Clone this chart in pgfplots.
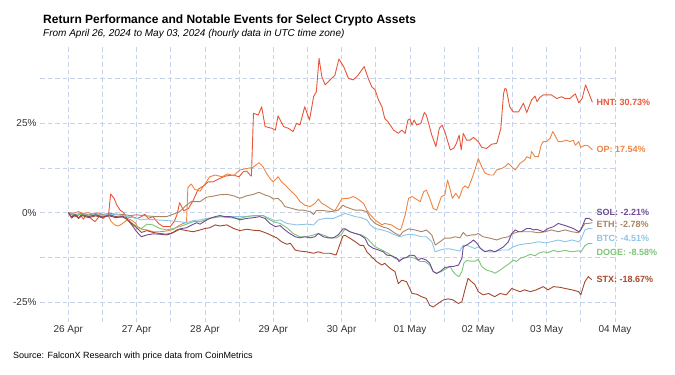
\documentclass[border=0pt]{standalone}
\usepackage{pgfplots}
\pgfplotsset{compat=1.18}
\usepackage{fontspec}
\setmainfont{Liberation Sans}
\definecolor{hnt}{HTML}{E8553A}
\definecolor{op}{HTML}{EE8443}
\definecolor{sol}{HTML}{6F4A96}
\definecolor{eth}{HTML}{A88462}
\definecolor{btc}{HTML}{8DC4E6}
\definecolor{doge}{HTML}{7DC47A}
\definecolor{stx}{HTML}{A5472B}
\definecolor{gridc}{HTML}{C6D3EA}
\definecolor{tickc}{HTML}{333333}
\begin{document}
\begin{tikzpicture}[x=1pt,y=1pt]
\useasboundingbox (0,0) rectangle (675,375);
\node[anchor=base west, inner sep=0, font=\bfseries\fontsize{12}{14}\selectfont] at (43,351.5) {Return Performance and Notable Events for Select Crypto Assets};
\node[anchor=base west, inner sep=0, font=\itshape\fontsize{10}{12}\selectfont] at (43,338.5) {From April 26, 2024 to May 03, 2024 (hourly data in UTC time zone)};
\node[anchor=base west, inner sep=0, font=\fontsize{9}{11}\selectfont] at (13,16.5) {Source: FalconX Research with price data from CoinMetrics};
\begin{axis}[
  at={(40pt,53pt)}, anchor=south west,
  width=577pt, height=277pt, scale only axis,
  xmin=-0.414, xmax=8.03, ymin=-30.45, ymax=46.71,
  axis line style={draw=none},
  major tick length=0pt, minor tick length=0pt,
  xtick={0,1,2,3,4,5,6,7,8},
  xticklabels={26 Apr,27 Apr,28 Apr,29 Apr,30 Apr,01 May,02 May,03 May,04 May},
  ytick={-25,0,25},
  yticklabels={-25\%,0\%,25\%},
  minor xtick={0.5,1.5,2.5,3.5,4.5,5.5,6.5,7.5},
  minor ytick={-12.5,12.5,37.5},
  grid=both,
  major grid style={gridc, line width=0.6pt, dash pattern=on 4.5pt off 3pt},
  minor grid style={gridc, line width=0.6pt, dash pattern=on 4.5pt off 3pt},
  ticklabel style={font=\fontsize{10}{12}\selectfont, text=tickc},
  clip=false,
  every axis plot/.append style={line width=0.9pt, line join=round, no marks},
]
% HNT
\addplot[hnt] coordinates {
(0,0) (0.07,-0.8) (0.12,-1.1) (0.17,-0.4) (0.22,-1.8) (0.27,-0.6) (0.33,-1.6) (0.39,-2.5) (0.45,-1.1) (0.51,-1.6) (0.59,-0.4) (0.62,5.2) (0.67,4.0) (0.71,2.1) (0.76,0.7) (0.81,0) (0.86,-1.6) (0.93,-1.1) (1.01,-1.6) (1.07,-1.1) (1.12,-0.4) (1.17,-1.6) (1.24,-1.1) (1.32,-3.0) (1.39,-3.9) (1.49,-3.9) (1.55,-2.5) (1.59,-0.6) (1.63,2.8) (1.69,0.5) (1.76,1.2) (1.83,3.5) (1.9,6.5) (1.98,7.5) (2.05,8.6) (2.12,8.6) (2.2,9.4) (2.3,10.2) (2.41,10.5) (2.5,10.0) (2.56,11.4) (2.61,11.6) (2.66,10.5) (2.68,10.2)
(2.71,27.7) (2.78,27.2) (2.83,29.5) (2.88,24.0) (2.98,23.5) (3.03,23.0) (3.07,27.0) (3.15,24.0) (3.22,23.5) (3.29,22.6) (3.34,24.9) (3.39,24.4) (3.46,29.5) (3.53,25.8) (3.59,32.3) (3.63,33.7) (3.67,43.0) (3.71,37.9) (3.76,35.6) (3.83,37.0) (3.90,38.2) (3.96,42.8) (4.03,40.7) (4.10,37.4) (4.17,37.0) (4.24,38.3) (4.33,40.7) (4.39,37.4) (4.44,35.1) (4.49,34.2) (4.54,31.4) (4.59,29.5) (4.63,26.3) (4.68,25.3) (4.76,23.0) (4.83,22.1) (4.88,23.0) (4.93,22.1) (4.97,25.8) (5.00,26.1) (5.03,24.4) (5.06,25.8) (5.10,24.4) (5.16,24.9) (5.21,27.9) (5.24,27.2) (5.32,21.6) (5.38,18.4) (5.43,23.5) (5.47,24.4) (5.51,22.6) (5.59,17.5) (5.64,17.9) (5.68,19.3) (5.72,21.6) (5.75,17.5) (5.78,22.1) (5.83,20.2) (5.88,20.2) (5.93,21.0) (6.00,19.8) (6.05,18.2) (6.12,17.9) (6.20,19.1) (6.27,19.3) (6.33,23.5) (6.37,33.2) (6.39,34.6) (6.41,34.4) (6.46,29.5) (6.51,28.1) (6.59,28.1) (6.66,30.5) (6.71,27.9) (6.78,31.4) (6.83,32.5) (6.86,30.9) (6.90,32.1) (6.95,32.8) (7.07,32.8) (7.15,31.8) (7.22,32.3) (7.27,31.8) (7.34,31.8) (7.42,33.1) (7.47,30.6) (7.52,31.8) (7.57,35.6) (7.62,33.2) (7.67,30.73)
};
% OP
\addplot[op] coordinates {
(0,0) (0.07,-0.2) (0.15,0.3) (0.22,-0.2) (0.29,0) (0.37,-0.4) (0.44,0) (0.51,-0.6) (0.59,-1.1) (0.63,-2.5) (0.68,-3.4) (0.73,-3.7) (0.78,-3.2) (0.85,-2.2) (0.91,-1.9) (0.98,-2.8) (1.02,-4.1) (1.07,-4.6) (1.15,-4.8) (1.24,-5.3) (1.34,-5.3) (1.44,-5.1) (1.54,-4.6) (1.61,-3.7) (1.68,-3.0) (1.73,-2.8) (1.75,7.0) (1.80,8.0) (1.85,6.5) (1.93,6.0) (2.00,8.0) (2.07,10.0) (2.15,10.5) (2.25,10.0) (2.33,10.8) (2.42,10.3) (2.51,11.9) (2.61,12.3) (2.70,12.6) (2.79,13.9) (2.85,12.8) (2.90,11.0) (2.95,9.6) (3.00,8.6) (3.07,10.0) (3.12,8.6) (3.20,7.2) (3.27,5.8) (3.34,4.5) (3.39,3.1) (3.46,2.1) (3.54,1.7) (3.61,2.6) (3.66,3.8) (3.71,2.6) (3.76,2.1) (3.83,1.2) (3.90,0.5) (3.95,2.1) (4.00,3.8) (4.05,4.0) (4.10,4.0) (4.17,4.5) (4.24,3.8) (4.32,2.6) (4.37,0.7) (4.42,-0.6) (4.49,-2.0) (4.59,-3.4) (4.63,-3.0) (4.73,-3.4) (4.81,-4.4) (4.86,-4.8) (4.88,-3.9) (4.93,-0.6) (4.98,4.0) (5.03,4.5) (5.07,4.0) (5.15,3.1) (5.20,5.8) (5.24,6.3) (5.29,4.0) (5.34,1.2) (5.39,0.7) (5.46,4.5) (5.51,4.9) (5.55,9.1) (5.59,6.3) (5.62,4.0) (5.67,5.4) (5.72,4.0) (5.77,6.8) (5.81,7.5) (5.85,6.8) (5.90,9.1) (5.95,11.9) (6.00,15.1) (6.05,12.8) (6.10,11.0) (6.17,10.5) (6.22,10.5) (6.27,11.9) (6.34,12.3) (6.39,12.8) (6.44,13.7) (6.49,12.8) (6.54,11.9) (6.61,13.7) (6.68,14.7) (6.71,15.6) (6.76,15.1) (6.78,17.0) (6.83,15.6) (6.88,15.6) (6.92,18.8) (6.95,19.8) (7.00,19.8) (7.05,20.7) (7.09,22.6) (7.12,21.6) (7.17,19.8) (7.22,19.8) (7.29,20.2) (7.34,19.8) (7.39,20.2) (7.42,18.8) (7.47,19.8) (7.50,18.2) (7.56,18.8) (7.61,18.6) (7.67,17.54)
};
% ETH
\addplot[eth] coordinates {
(0,0) (0.1,-0.5) (0.2,-0.2) (0.3,-0.6) (0.4,-0.3) (0.5,-0.5) (0.6,-0.2) (0.7,-0.4) (0.8,-0.5) (0.9,-0.8) (1.0,-0.6) (1.15,-0.9) (1.29,-1.1) (1.44,-1.1) (1.54,-0.4) (1.63,0.3) (1.73,2.1) (1.80,3.1) (1.93,3.1) (2.02,4.3) (2.12,4.6) (2.22,5.0) (2.32,5.1) (2.42,4.7) (2.51,4.0) (2.61,4.7) (2.71,5.1) (2.79,5.7) (2.88,4.9) (2.95,4.5) (3.00,3.8) (3.07,4.0) (3.12,3.1) (3.17,1.7) (3.27,1.2) (3.37,0.7) (3.44,0.7) (3.54,0.3) (3.59,-0.5) (3.63,0.6) (3.73,0.6) (3.85,0.3) (3.95,0.7) (4.02,2.1) (4.05,1.7) (4.12,1.2) (4.20,0.7) (4.29,0.7) (4.37,0.3) (4.42,-1.6) (4.49,-3.0) (4.59,-3.9) (4.68,-4.4) (4.78,-5.7) (4.85,-6.4) (4.90,-5.3) (4.98,-4.5) (5.07,-4.8) (5.17,-5.3) (5.24,-4.8) (5.32,-6.2) (5.37,-9.0) (5.44,-8.1) (5.51,-7.1) (5.59,-7.1) (5.66,-6.7) (5.73,-7.0) (5.78,-5.5) (5.83,-6.5) (5.90,-6.2) (5.95,-6.2) (6.00,-5.8) (6.07,-6.7) (6.17,-7.1) (6.27,-7.6) (6.34,-7.1) (6.44,-6.7) (6.51,-5.8) (6.59,-5.3) (6.66,-5.3) (6.78,-5.3) (6.88,-5.6) (6.98,-5.3) (7.07,-4.8) (7.17,-5.3) (7.27,-4.8) (7.37,-5.3) (7.47,-5.6) (7.50,-4.8) (7.56,-3.0) (7.61,-3.0) (7.67,-2.78)
};
% BTC
\addplot[btc] coordinates {
(0,0) (0.1,-0.6) (0.2,-0.4) (0.3,-0.8) (0.4,-0.5) (0.5,-0.7) (0.6,-0.4) (0.7,-0.6) (0.8,-0.8) (0.9,-1.2) (1.0,-1.6) (1.07,-2.0) (1.15,-1.8) (1.29,-2.0) (1.44,-2.2) (1.63,-2.5) (1.73,-2.8) (1.83,-2.2) (1.93,-2.0) (2.02,-1.6) (2.22,-1.1) (2.41,-1.1) (2.56,-1.1) (2.70,-0.9) (2.85,-0.8) (2.95,-1.6) (3.03,-2.3) (3.10,-2.0) (3.20,-3.0) (3.34,-3.4) (3.49,-3.2) (3.59,-3.4) (3.66,-2.0) (3.76,-1.6) (3.88,-1.6) (3.98,-0.8) (4.05,-0.2) (4.12,-0.6) (4.20,-1.1) (4.29,-1.4) (4.37,-2.0) (4.42,-3.4) (4.49,-4.4) (4.59,-4.8) (4.68,-5.3) (4.78,-6.2) (4.85,-6.7) (4.93,-6.2) (5.00,-6.0) (5.07,-6.2) (5.17,-6.7) (5.24,-6.7) (5.32,-8.1) (5.37,-10.9) (5.44,-10.4) (5.51,-10.1) (5.59,-10.1) (5.66,-10.4) (5.73,-10.7) (5.78,-9.0) (5.85,-9.2) (5.95,-10.0) (6.00,-9.5) (6.07,-10.6) (6.15,-10.9) (6.24,-10.9) (6.34,-10.4) (6.44,-10.4) (6.51,-9.5) (6.59,-9.0) (6.68,-8.7) (6.78,-8.5) (6.88,-8.1) (6.98,-8.4) (7.07,-8.1) (7.17,-7.6) (7.27,-8.1) (7.37,-7.6) (7.47,-8.1) (7.50,-7.6) (7.56,-4.8) (7.61,-4.4) (7.67,-4.51)
};
% DOGE
\addplot[doge] coordinates {
(0,0) (0.1,-0.8) (0.2,-0.4) (0.3,-1.0) (0.4,-0.6) (0.5,-1.0) (0.6,-0.7) (0.7,-1.3) (0.8,-1.2) (0.9,-2.5) (1.0,-3.8) (1.07,-4.4) (1.15,-3.2) (1.24,-3.4) (1.34,-4.4) (1.44,-4.8) (1.54,-4.4) (1.63,-3.9) (1.73,-3.2) (1.83,-2.5) (1.93,-2.5) (2.07,-1.6) (2.22,-1.1) (2.37,-1.4) (2.51,-1.6) (2.61,-1.1) (2.71,-0.8) (2.85,-0.8) (2.93,-1.8) (3.00,-2.5) (3.10,-3.0) (3.20,-4.2) (3.29,-5.8) (3.39,-6.7) (3.49,-6.7) (3.59,-6.2) (3.66,-5.8) (3.76,-6.4) (3.83,-7.0) (3.93,-7.0) (4.00,-6.0) (4.05,-4.5) (4.12,-5.3) (4.20,-5.8) (4.29,-6.2) (4.37,-7.1) (4.42,-8.1) (4.49,-9.5) (4.59,-10.4) (4.68,-11.3) (4.78,-12.7) (4.85,-13.2) (4.93,-12.5) (5.00,-12.3) (5.07,-12.7) (5.15,-13.6) (5.22,-13.6) (5.29,-14.6) (5.34,-16.4) (5.39,-16.9) (5.46,-16.4) (5.54,-15.5) (5.59,-15.0) (5.63,-16.4) (5.68,-17.4) (5.72,-17.8) (5.76,-16.4) (5.79,-14.0) (5.83,-13.3) (5.88,-13.5) (5.95,-13.5) (6.00,-13.0) (6.05,-15.0) (6.12,-16.0) (6.20,-16.4) (6.24,-16.9) (6.32,-16.0) (6.39,-15.0) (6.46,-14.1) (6.51,-13.2) (6.56,-13.6) (6.61,-12.7) (6.68,-12.3) (6.76,-11.6) (6.83,-12.0) (6.88,-11.3) (6.95,-10.9) (7.02,-11.1) (7.10,-10.5) (7.17,-10.9) (7.27,-10.5) (7.37,-10.9) (7.47,-10.6) (7.50,-11.0) (7.56,-9.2) (7.61,-8.6) (7.67,-8.58)
};
% SOL
\addplot[sol] coordinates {
(0,0) (0.05,-1.2) (0.1,-0.5) (0.15,-1.4) (0.2,-0.6) (0.3,-1.1) (0.4,-0.6) (0.5,-1.2) (0.6,-0.9) (0.7,-1.4) (0.8,-1.0) (0.85,-1.6) (0.93,-3.4) (1.00,-5.3) (1.07,-6.7) (1.15,-6.2) (1.24,-5.9) (1.34,-6.0) (1.44,-6.2) (1.51,-5.8) (1.59,-4.8) (1.66,-4.4) (1.73,-4.2) (1.81,-3.4) (1.88,-2.8) (1.93,-3.2) (2.00,-2.3) (2.07,-1.6) (2.15,-1.1) (2.22,-0.8) (2.29,-1.1) (2.37,-1.1) (2.46,-1.6) (2.51,-2.0) (2.61,-1.6) (2.71,-1.4) (2.80,-1.1) (2.88,-1.6) (2.95,-3.0) (3.03,-3.9) (3.10,-3.6) (3.17,-4.8) (3.24,-5.8) (3.32,-6.7) (3.39,-7.0) (3.46,-6.7) (3.54,-7.0) (3.61,-6.7) (3.66,-5.8) (3.73,-6.7) (3.80,-7.0) (3.88,-7.0) (3.95,-6.2) (4.02,-4.5) (4.05,-4.5) (4.12,-5.3) (4.20,-5.8) (4.27,-6.2) (4.34,-7.1) (4.39,-9.0) (4.46,-9.9) (4.54,-10.4) (4.61,-10.9) (4.66,-11.8) (4.73,-12.0) (4.81,-12.7) (4.84,-13.6) (4.90,-12.7) (4.95,-12.5) (5.00,-11.8) (5.07,-12.0) (5.12,-13.2) (5.17,-12.7) (5.24,-13.2) (5.29,-14.1) (5.34,-16.4) (5.39,-16.9) (5.44,-16.4) (5.51,-15.3) (5.59,-15.0) (5.63,-15.0) (5.71,-14.6) (5.76,-12.7) (5.78,-9.5) (5.83,-9.0) (5.90,-8.1) (5.93,-7.6) (5.98,-8.5) (6.03,-9.9) (6.10,-10.9) (6.17,-10.4) (6.24,-10.9) (6.29,-10.4) (6.37,-9.5) (6.44,-8.1) (6.49,-5.8) (6.54,-4.8) (6.59,-5.3) (6.63,-5.3) (6.71,-4.4) (6.76,-4.4) (6.81,-4.8) (6.85,-4.6) (6.95,-5.3) (7.02,-4.4) (7.10,-3.9) (7.17,-3.0) (7.24,-3.4) (7.32,-3.9) (7.39,-4.4) (7.47,-5.3) (7.50,-4.8) (7.54,-3.0) (7.57,-1.6) (7.62,-1.6) (7.67,-2.21)
};
% STX
\addplot[stx] coordinates {
(0,0) (0.05,-1.5) (0.1,-0.7) (0.15,-1.6) (0.2,-0.8) (0.3,-1.4) (0.4,-0.9) (0.5,-1.3) (0.6,-0.6) (0.7,-1.1) (0.8,-1.2) (0.85,-1.6) (0.93,-3.0) (1.00,-4.2) (1.07,-5.5) (1.15,-5.0) (1.24,-5.5) (1.34,-5.8) (1.44,-6.0) (1.54,-5.5) (1.63,-4.6) (1.73,-5.0) (1.83,-5.3) (1.93,-4.8) (2.00,-4.4) (2.07,-4.2) (2.15,-3.4) (2.22,-3.7) (2.32,-3.4) (2.42,-4.4) (2.51,-5.0) (2.61,-4.6) (2.71,-4.9) (2.80,-5.0) (2.90,-5.7) (2.98,-6.4) (3.05,-7.0) (3.12,-8.1) (3.20,-8.8) (3.25,-8.5) (3.32,-10.4) (3.39,-10.7) (3.49,-10.9) (3.59,-11.3) (3.66,-10.9) (3.73,-11.3) (3.83,-11.3) (3.92,-11.8) (3.98,-8.5) (4.02,-6.5) (4.05,-6.3) (4.12,-7.1) (4.20,-8.1) (4.27,-9.1) (4.32,-9.1) (4.37,-10.9) (4.44,-12.3) (4.51,-13.6) (4.59,-14.6) (4.63,-14.1) (4.71,-15.5) (4.78,-16.4) (4.83,-19.8) (4.88,-18.8) (4.95,-19.2) (5.03,-22.5) (5.10,-22.7) (5.17,-23.4) (5.24,-23.9) (5.29,-25.8) (5.34,-26.3) (5.41,-25.3) (5.49,-24.3) (5.56,-24.0) (5.63,-24.3) (5.71,-25.3) (5.76,-24.8) (5.81,-21.1) (5.85,-18.3) (5.90,-19.2) (5.95,-20.0) (6.00,-22.0) (6.07,-22.9) (6.15,-22.5) (6.24,-23.4) (6.32,-22.5) (6.41,-22.9) (6.49,-21.1) (6.54,-21.5) (6.61,-22.0) (6.68,-21.5) (6.76,-22.0) (6.85,-21.5) (6.95,-20.6) (7.02,-21.5) (7.10,-20.6) (7.20,-20.8) (7.27,-21.1) (7.37,-21.5) (7.47,-22.0) (7.50,-22.9) (7.56,-19.2) (7.61,-17.8) (7.66,-18.67)
};
\begin{scope}[every node/.style={anchor=west, inner sep=0pt, font=\bfseries\fontsize{9}{10}\selectfont}]
\node[text=hnt] at (axis cs:7.73,30.7) {HNT: 30.73\%};
\node[text=op] at (axis cs:7.73,17.6) {OP: 17.54\%};
\node[text=sol] at (axis cs:7.73,0.1) {SOL: -2.21\%};
\node[text=eth] at (axis cs:7.73,-3.3) {ETH: -2.78\%};
\node[text=btc] at (axis cs:7.73,-7.2) {BTC: -4.51\%};
\node[text=doge] at (axis cs:7.73,-11.0) {DOGE: -8.58\%};
\node[text=stx] at (axis cs:7.73,-18.7) {STX: -18.67\%};
\end{scope}
\end{axis}
\end{tikzpicture}
\end{document}
